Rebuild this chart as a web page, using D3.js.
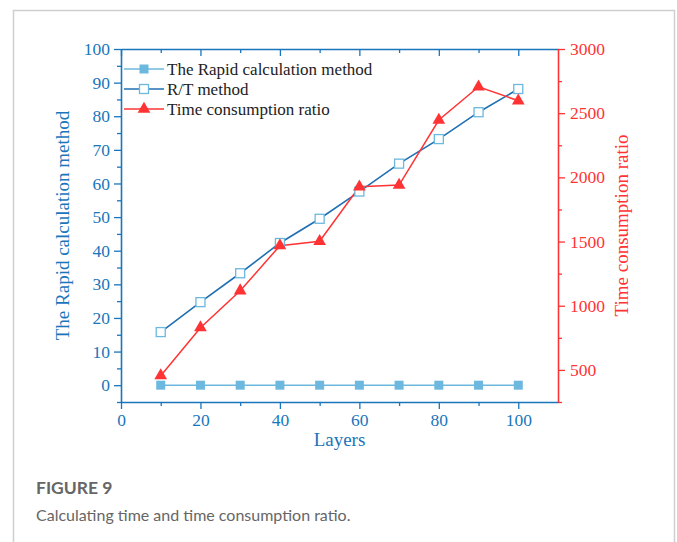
<!DOCTYPE html>
<html>
<head>
<meta charset="utf-8">
<script src="https://cdn.jsdelivr.net/npm/d3@7"></script>
<style>
body{margin:0;background:#fff;}
svg{display:block;}
.tick text{font-family:'Liberation Serif','Times New Roman',serif;}
</style>
</head>
<body>
<svg id="svg" width="677" height="542"></svg>
<script>
// data
var layers=[10,20,30,40,50,60,70,80,90,100];
var rapid=[0,0,0,0,0,0,0,0,0,0];
var rtMethod=[15.8,24.7,33.3,42.3,49.5,57.6,65.9,73.2,81.2,88.1];
var timeRatio=[455,829,1117,1468,1502,1927,1940,2447,2706,2597];
var xTicks=[0,20,40,60,80,100];
var leftTicks=[0,10,20,30,40,50,60,70,80,90,100];
var rightTicks=[500,1000,1500,2000,2500,3000];
var legendNames=["The Rapid calculation method","R/T method","Time consumption ratio"];

var blue="#1a75bb", lightBlue="#6cb8de", rtBlue="#1f6fb2", red="#ff3333";
var serif="'Liberation Serif','Times New Roman',serif";

var svg=d3.select("#svg");

// figure frame
svg.append("path")
    .attr("d","M13.5,560 V10.5 H674.5 V560")
    .attr("fill","none").attr("stroke","#cfcfcf").attr("stroke-width",1.5)

var plotL=121, plotT=49, plotR=558, plotB=402;
var x=d3.scaleLinear().domain([0,110]).range([plotL,plotR]);
var y=d3.scaleLinear().domain([-5,100]).range([plotB,plotT]);
var y2=d3.scaleLinear().domain([250,3000]).range([plotB,plotT]);

function styleAxis(g,col,size){
    g.attr("font-family",serif).attr("font-size",size);
    g.selectAll("path").attr("stroke",col).attr("stroke-width",1.6);
    g.selectAll("line").attr("stroke",col).attr("stroke-width",1.3);
    g.selectAll("text").attr("fill",col).attr("font-family",serif).attr("font-size",size);
}

//minor ticks first
svg.append("g").attr("transform","translate(0,"+plotB+")")
    .call(d3.axisBottom(x).tickValues(d3.range(10,110,20)).tickSize(4).tickFormat(""))
    .call(g=>{g.select(".domain").remove();styleAxis(g,blue,16)})
svg.append("g").attr("transform","translate(0,"+plotT+")")
    .call(d3.axisBottom(x).tickValues(d3.range(10,110,20)).tickSize(4).tickFormat(""))
    .call(g=>{g.select(".domain").remove();styleAxis(g,blue,16)})
svg.append("g").attr("transform","translate("+plotL+",0)")
    .call(d3.axisLeft(y).tickValues(d3.range(-5,100,10)).tickSize(4).tickFormat(""))
    .call(g=>{g.select(".domain").remove();styleAxis(g,blue,16)})
svg.append("g").attr("transform","translate("+plotR+",0)")
    .call(d3.axisRight(y2).tickValues(d3.range(250,3000,500)).tickSize(4).tickFormat(""))
    .call(g=>{g.select(".domain").remove();styleAxis(g,red,16)})

//top axis (ticks pointing in)
svg.append("g").attr("transform","translate(0,"+plotT+")")
    .call(d3.axisBottom(x).tickValues(xTicks).tickSize(7).tickSizeOuter(0).tickFormat(""))
    .call(g=>styleAxis(g,blue,16))

//bottom axis
svg.append("g").attr("transform","translate(0,"+plotB+")")
    .call(d3.axisBottom(x).tickValues(xTicks).tickSize(7).tickSizeOuter(0).tickPadding(5).tickFormat(d3.format("d")))
    .call(g=>styleAxis(g,blue,17.5))

//left axis
svg.append("g").attr("transform","translate("+plotL+",0)")
    .call(d3.axisLeft(y).tickValues(leftTicks).tickSize(7).tickSizeOuter(0).tickPadding(4).tickFormat(d3.format("d")))
    .call(g=>styleAxis(g,blue,17.5))

//right axis
svg.append("g").attr("transform","translate("+plotR+",0)")
    .call(d3.axisRight(y2).tickValues(rightTicks).tickSize(7).tickSizeOuter(0).tickPadding(5).tickFormat(d3.format("d")))
    .call(g=>styleAxis(g,red,17.5))

//axis titles
svg.append("text").attr("x",(plotL+plotR)/2).attr("y",446)
    .attr("text-anchor","middle").attr("fill",blue)
    .style("font-family",serif).style("font-size","19px").text("Layers")
svg.append("text").attr("transform","translate(69,"+((plotT+plotB)/2)+") rotate(-90)")
    .attr("text-anchor","middle").attr("fill",blue)
    .style("font-family",serif).style("font-size","19px").text("The Rapid calculation method")
svg.append("text").attr("transform","translate(628,"+((plotT+plotB)/2)+") rotate(-90)")
    .attr("text-anchor","middle").attr("fill",red)
    .style("font-family",serif).style("font-size","19px").text("Time consumption ratio")

//lines
var pts=function(vals,sc){return layers.map((l,i)=>[x(l),sc(vals[i])])}
var line=d3.line();

svg.append("path").attr("d",line(pts(rapid,y))).attr("fill","none").attr("stroke",lightBlue).attr("stroke-width",1.6)
svg.append("path").attr("d",line(pts(rtMethod,y))).attr("fill","none").attr("stroke",rtBlue).attr("stroke-width",1.6)
svg.append("path").attr("d",line(pts(timeRatio,y2))).attr("fill","none").attr("stroke",red).attr("stroke-width",1.5)

svg.append("g").selectAll("rect").data(rapid).enter().append("rect")
    .attr("x",(d,i)=>x(layers[i])-4.5).attr("y",d=>y(d)-4.5)
    .attr("width",9).attr("height",9).attr("fill",lightBlue)
svg.append("g").selectAll("rect").data(rtMethod).enter().append("rect")
    .attr("x",(d,i)=>x(layers[i])-4.5).attr("y",d=>y(d)-4.5)
    .attr("width",9).attr("height",9).attr("fill","#fff").attr("stroke",lightBlue).attr("stroke-width",1.3)
var tri=d3.symbol().type(d3.symbolTriangle).size(70);
svg.append("g").selectAll("path").data(timeRatio).enter().append("path")
    .attr("transform",(d,i)=>"translate("+x(layers[i])+","+y2(d)+")")
    .attr("d",tri).attr("fill",red)

//legend
var legendStyle=[
    {stroke:lightBlue,shape:"sq",fill:lightBlue},
    {stroke:rtBlue,shape:"sq",fill:"#fff"},
    {stroke:red,shape:"tri",fill:red}
];
var legend=svg.append("g").attr("transform","translate(124,69)");
legendNames.forEach((name,i)=>{
    var g=legend.append("g").attr("transform","translate(0,"+(i*20)+")");
    var s=legendStyle[i];
    g.append("line").attr("x1",0).attr("x2",40).attr("stroke",s.stroke).attr("stroke-width",1.6)
    if(s.shape=="sq"){
        g.append("rect").attr("x",15.5).attr("y",-4.5).attr("width",9).attr("height",9)
            .attr("fill",s.fill).attr("stroke",i==1?lightBlue:"none").attr("stroke-width",1.3)
    } else {
        g.append("path").attr("transform","translate(20,0)").attr("d",tri).attr("fill",s.fill)
    }
    g.append("text").attr("x",43).attr("y",5.5).attr("fill","#222")
        .style("font-family",serif).style("font-size","17px").text(name)
})

//caption
svg.append("text").attr("x",36).attr("y",494).attr("fill","#666")
    .style("font-family","Lato,'Noto Sans',sans-serif").style("font-size","17.5px").style("font-weight","700")
    .text("FIGURE 9")
svg.append("text").attr("x",36).attr("y",521).attr("fill","#666")
    .style("font-family","Lato,'Noto Sans',sans-serif").style("font-size","16px")
    .text("Calculating time and time consumption ratio.")
</script>
</body>
</html>
